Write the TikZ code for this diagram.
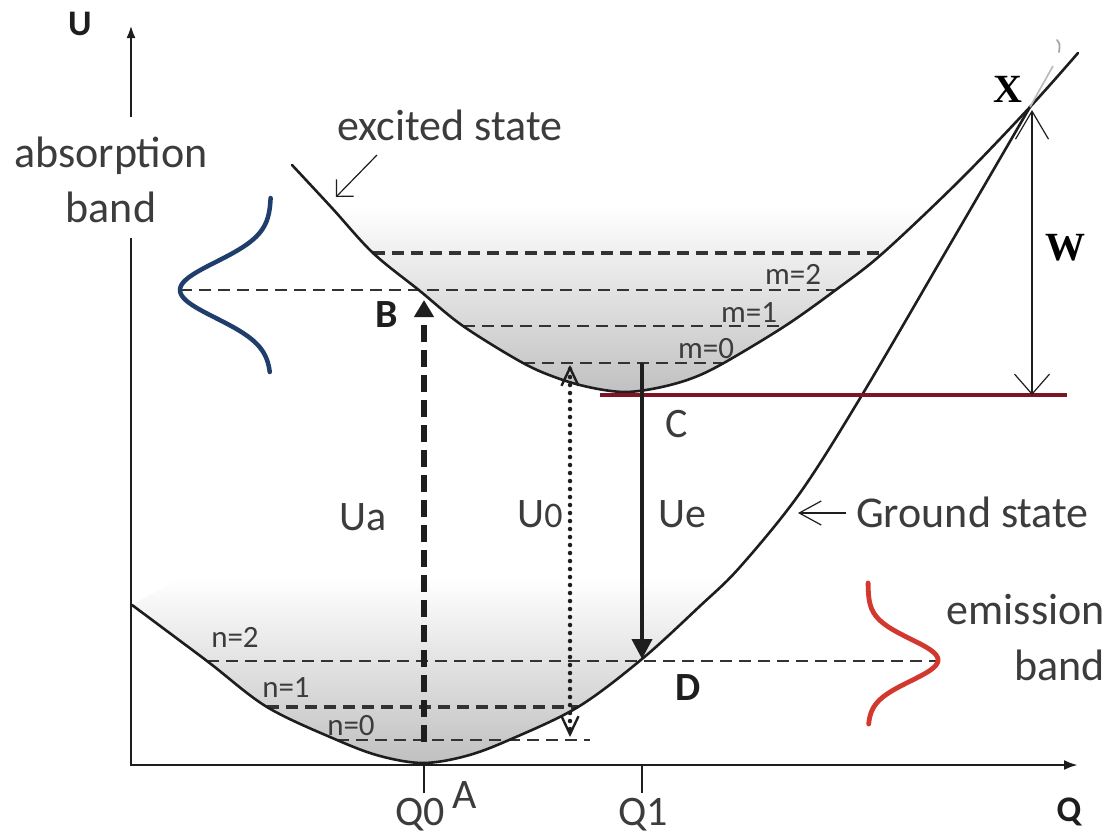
\documentclass[tikz,border=0pt]{standalone}
\usepackage{fontspec}
\setmainfont{Carlito}
\newfontfamily\timesfam{Liberation Serif}
\usetikzlibrary{arrows.meta}
\definecolor{ink}{HTML}{1E1E1E}
\definecolor{txt}{HTML}{3C3C3C}
\definecolor{lvl}{HTML}{333333}
\definecolor{maroon}{HTML}{7E1428}
\definecolor{navy}{HTML}{1F3E6C}
\definecolor{redband}{HTML}{D3382F}
\begin{document}
\begin{tikzpicture}[x=1pt,y=-1pt,
  curv/.style={draw=ink, line width=2.6pt, line join=round, line cap=round},
  lvla/.style={draw=lvl, line width=1.8pt, dash pattern=on 12pt off 7pt},
  lvlb/.style={draw=lvl, line width=2.6pt, dash pattern=on 12pt off 7pt},
  lvlc/.style={draw=lvl, line width=3.6pt, dash pattern=on 12pt off 7pt},
  axisline/.style={draw=ink, line width=2.6pt},
  ptr/.style={draw=ink, line width=1.2pt},
  big/.style={font=\fontsize{44}{52}\selectfont, text=txt, inner sep=0pt, anchor=base},
  lbl/.style={font=\fontsize{42}{50}\selectfont, text=txt, inner sep=0pt, anchor=base},
  bl/.style={font=\fontsize{40}{48}\selectfont\bfseries, text=ink, inner sep=0pt, anchor=base},
  axl/.style={font=\fontsize{36}{44}\selectfont\bfseries, text=ink, inner sep=0pt, anchor=base},
  sm/.style={font=\fontsize{31}{36}\selectfont, text=txt, inner sep=0pt, anchor=base},
  tb/.style={font=\timesfam\fontsize{40}{48}\selectfont\bfseries, text=black, inner sep=0pt, anchor=base}
]
\useasboundingbox (0,0) rectangle (1120,839);
\fill[white] (0,0) rectangle (1120,839);

% ---- shading of the two wells
\begin{scope}
  \clip plot[smooth,tension=0.55] coordinates {(292,165) (332,208) (373,253) (420,291) (463,326) (523,363) (560,379) (593,388) (625,392) (657,388) (690,379) (722,364) (785,326) (837,289) (883,253) (960,180) (1030,107) (1078,53)} -- cycle;
  \shade[top color=white, bottom color=black!25] (250,205) rectangle (1100,396);
\end{scope}
\begin{scope}
  \clip plot[smooth,tension=0.55] coordinates {(132,605) (207,661) (267,707) (337,740) (380,756) (423,763) (466,756) (509,740) (578,707) (642,659) (700,606) (740,567) (800,493) (862,395) (945,253) (1030,107)} -- cycle;
  \shade[top color=white, bottom color=black!25] (132,578) rectangle (820,766);
\end{scope}

% ---- vibrational levels
\draw[lvlc] (373,253) -- (883,253);
\draw[lvla] (180,290) -- (837,290);
\draw[lvlb] (463,326) -- (785,326);
\draw[lvlb] (523,363) -- (722,363);
\draw[lvla] (207,661) -- (936,661);
\draw[lvlc] (267,707) -- (578,707);
\draw[lvlb] (337,740) -- (590,740);

% ---- axes
\coordinate (O) at (131,765);
\coordinate (Utop) at (131,25);
\coordinate (Ubrk1) at (131,117);
\coordinate (Ubrk2) at (131,238);
\coordinate (Qend) at (1078,765);
\draw[axisline, -{Latex[length=13pt,width=9pt]}] (Ubrk1) -- (Utop);
\draw[axisline, -{Latex[length=14pt,width=10pt]}] (Ubrk2) -- (O) -- (Qend);
\coordinate (Q0a) at (424,765); \coordinate (Q0b) at (424,793);
\coordinate (Q1a) at (642,765); \coordinate (Q1b) at (642,793);
\draw[axisline] (Q0a) -- (Q0b);
\draw[axisline] (Q1a) -- (Q1b);

% ---- potential curves
\draw[curv] plot[smooth,tension=0.55] coordinates {(132,605) (207,661) (267,707) (337,740) (380,756) (423,763) (466,756) (509,740) (578,707) (642,659) (700,606) (740,567) (800,493) (862,395) (945,253) (1030,107)};
\draw[curv] plot[smooth,tension=0.55] coordinates {(292,165) (332,208) (373,253) (420,291) (463,326) (523,363) (560,379) (593,388) (625,392) (657,388) (690,379) (722,364) (785,326) (837,289) (883,253) (960,180) (1030,107) (1078,53)};
\draw[gray!55, line width=1.6pt] (1030,107) -- (1053,66);
\draw[gray!70, line width=1.8pt, line cap=round] (1057,40) .. controls (1060,44) .. (1059,52);

% ---- bands
\draw[navy, line width=4.5pt, line cap=round] plot[domain=-92:82, samples=90, variable=\t] ({271-91*exp(-(\t*\t)/1568)}, {290+\t});
\draw[redband, line width=4.8pt, line cap=round] plot[domain=-77:64, samples=90, variable=\t] ({868+70*exp(-(\t*\t)/888)}, {660+\t});

% ---- minimum line C
\coordinate (Cl) at (600,395);
\coordinate (Cr) at (1067,395);
\draw[maroon, line width=4.6pt] (Cl) -- (Cr);

% ---- transitions
\coordinate (Bbase) at (424,742);
\coordinate (Btip) at (424,300);
\draw[ink, line width=5.5pt, dash pattern=on 17pt off 8pt, -{Triangle[length=17pt,width=19pt]}] (Bbase) -- (Btip);
\coordinate (Ctop) at (642,363);
\coordinate (Dtip) at (642,659);
\draw[ink, line width=4pt, -{Triangle[length=20pt,width=20pt]}] (Ctop) -- (Dtip);
\coordinate (Vtop) at (570,365);
\coordinate (Vbot) at (570,737);
\draw[ink, line width=4.5pt, line cap=round, dash pattern=on 0pt off 8pt,
  {Straight Barb[length=18pt,width=17pt,line width=2.4pt]}-{Straight Barb[length=18pt,width=17pt,line width=2.4pt]}] (Vtop) -- (Vbot);
\coordinate (Xp) at (1032,110);
\coordinate (Wb) at (1032,395);
\draw[ptr, {Straight Barb[length=28pt,width=33pt]}-{Straight Barb[length=20pt,width=35pt]}] (Xp) -- (Wb);

% ---- pointers
\coordinate (exT) at (377,155);
\coordinate (exH) at (336,197);
\draw[ptr, -{Straight Barb[length=12pt,width=24pt]}] (exT) -- (exH);
\coordinate (gsT) at (846,513);
\coordinate (gsH) at (798,513);
\draw[ptr, -{Straight Barb[length=22pt,width=24pt]}] (gsT) -- (gsH);

% ---- texts
\node[axl] (Ulab) at (80,35) {U};
\node[axl] (Qlab) at (1069,821) {Q};
\node[big] (abs1) at (111,167) {absorption};
\node[big] (abs2) at (111,222) {band};
\node[big] (exc) at (450,140) {excited state};
\node[big, anchor=base west] (gs) at (856,527) {Ground state};
\node[big, anchor=base east] (em1) at (1105,624) {emission};
\node[big, anchor=base east] (em2) at (1105,680) {band};
\node[lbl] (Ua) at (363,530) {Ua};
\node[lbl] (U0) at (540,527) {U{\fontsize{36}{40}\selectfont 0}};
\node[lbl] (Ue) at (682,527) {Ue};
\node[lbl] (Clab) at (677,437) {C};
\node[bl] (Blab) at (387,327) {B};
\node[bl] (Dlab) at (688,700) {D};
\node[lbl] (Alab) at (465,808) {A};
\node[lbl] (Q0) at (420,825) {Q0};
\node[lbl] (Q1) at (643,825) {Q1};
\node[tb] (Xlab) at (1008,102) {X};
\node[tb] (Wlab) at (1065,260) {W};
\node[sm] (m2) at (793,284) {m=2};
\node[sm] (m1) at (749,322) {m=1};
\node[sm] (m0) at (706,358) {m=0};
\node[sm] (n2) at (235,647) {n=2};
\node[sm] (n1) at (286,697) {n=1};
\node[sm] (n0) at (351,735) {n=0};
\end{tikzpicture}
\end{document}
